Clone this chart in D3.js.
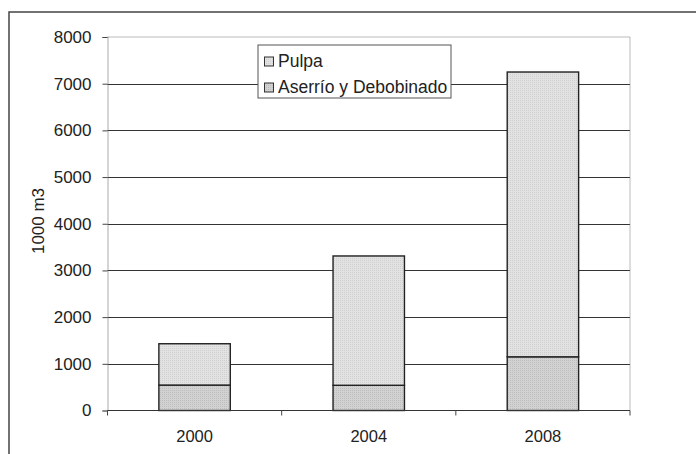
<!DOCTYPE html>
<html>
<head>
<meta charset="utf-8">
<script src="https://cdn.jsdelivr.net/npm/d3@7"></script>
<style>
  body { margin: 0; background: #fff; }
  text { font-family: "Liberation Sans", Arial, sans-serif; fill: #222; }
</style>
</head>
<body>
<div id="chart"></div>
<script>
const width = 696
const height = 454

const years = ["2000", "2004", "2008"]
const aserrio = [545, 540, 1150]
const pulpa = [885, 2770, 6100]
const seriesNames = ["Pulpa", "Aserrío y Debobinado"]
const yTicks = [0, 1000, 2000, 3000, 4000, 5000, 6000, 7000, 8000]

const plot = { left: 107.5, right: 630, top: 37, bottom: 410.5 }

const svg = d3.select("#chart").append("svg").attr("width", width).attr("height", height)

// patterned fills
const defs = svg.append("defs")
const makePattern = (id, base, dot) => {
    const p = defs.append("pattern").attr("id", id).attr("width", 2).attr("height", 2).attr("patternUnits", "userSpaceOnUse")
    p.append("rect").attr("width", 2).attr("height", 2).attr("fill", base)
    p.append("rect").attr("width", 1).attr("height", 1).attr("fill", dot)
}
makePattern("patPulpa", "#e2e2e2", "#cfcfcf")
makePattern("patAserrio", "#d2d2d2", "#bdbdbd")

// outer frame (only top/left visible)
svg.append("rect").attr("x", 9).attr("y", 12).attr("width", 720).attr("height", 480)
    .attr("fill", "none").attr("stroke", "#444").attr("stroke-width", 1.5)

const x = d3.scaleBand().domain(years).range([plot.left, plot.right]).paddingInner(0.59).paddingOuter(0.295)
const y = d3.scaleLinear().domain([0, 8000]).range([plot.bottom, plot.top])

// gridlines
svg.append("g").selectAll("line").data(yTicks.filter((t) => t > 0 && t < 8000)).enter().append("line")
    .attr("x1", plot.left).attr("x2", plot.right)
    .attr("y1", (d) => Math.round(y(d)) + 0.5).attr("y2", (d) => Math.round(y(d)) + 0.5)
    .attr("stroke", "#333").attr("stroke-width", 1)

// plot border top/right dotted
svg.append("path")
    .attr("d", `M${plot.left},${plot.top}H${plot.right}V${plot.bottom}`)
    .attr("fill", "none").attr("stroke", "#777").attr("stroke-width", 1).attr("stroke-dasharray", "1,1")

// bars
const stacks = years.map((yr, i) => ({ yr, a: aserrio[i], p: pulpa[i] }))
const barG = svg.append("g")
barG.selectAll(".bar-a").data(stacks).enter().append("rect")
    .attr("x", (d) => x(d.yr)).attr("width", x.bandwidth())
    .attr("y", (d) => y(d.a)).attr("height", (d) => y(0) - y(d.a))
    .attr("fill", "url(#patAserrio)").attr("stroke", "#222").attr("stroke-width", 1.4)
barG.selectAll(".bar-p").data(stacks).enter().append("rect")
    .attr("x", (d) => x(d.yr)).attr("width", x.bandwidth())
    .attr("y", (d) => y(d.a + d.p)).attr("height", (d) => y(d.a) - y(d.a + d.p))
    .attr("fill", "url(#patPulpa)").attr("stroke", "#222").attr("stroke-width", 1.4)

// y axis
const yAxis = svg.append("g").attr("transform", `translate(${plot.left},0)`)
    .call(d3.axisLeft(y).tickValues(yTicks).tickSize(5).tickPadding(11).tickFormat(d3.format("d")))
yAxis.select(".domain").attr("stroke", "#555").attr("stroke-dasharray", "1,1")
yAxis.selectAll(".tick line").attr("stroke", "#444")
yAxis.selectAll("text").attr("font-size", 17).attr("fill", "#222")

// x axis
const xAxis = svg.append("g").attr("transform", `translate(0,${plot.bottom})`)
xAxis.append("line").attr("x1", plot.left).attr("x2", plot.right).attr("stroke", "#333").attr("stroke-width", 1.2)
xAxis.selectAll(".xt").data(d3.range(years.length + 1)).enter().append("line")
    .attr("x1", (i) => plot.left + i * (plot.right - plot.left) / years.length)
    .attr("x2", (i) => plot.left + i * (plot.right - plot.left) / years.length)
    .attr("y1", 0).attr("y2", 5).attr("stroke", "#444")
xAxis.selectAll(".xl").data(years).enter().append("text")
    .attr("x", (d) => x(d) + x.bandwidth() / 2).attr("y", 31)
    .attr("text-anchor", "middle").attr("font-size", 16.5).text((d) => d)

// y label
svg.append("text").attr("transform", `translate(44,${221}) rotate(-90)`)
    .attr("text-anchor", "middle").attr("font-size", 17).text("1000 m3")

// legend
const leg = svg.append("g").attr("transform", "translate(258,45)")
leg.append("rect").attr("width", 193).attr("height", 53).attr("fill", "#fff").attr("stroke", "#555").attr("stroke-width", 1)
const legFills = ["url(#patPulpa)", "url(#patAserrio)"]
seriesNames.forEach((name, i) => {
    const gy = 16 + i * 26
    leg.append("rect").attr("x", 6.5).attr("y", gy - 4).attr("width", 9).attr("height", 9)
        .attr("fill", legFills[i]).attr("stroke", "#333").attr("stroke-width", 1)
    leg.append("text").attr("x", 20).attr("y", gy + 6).attr("font-size", 17.5).text(name)
})
</script>
</body>
</html>
